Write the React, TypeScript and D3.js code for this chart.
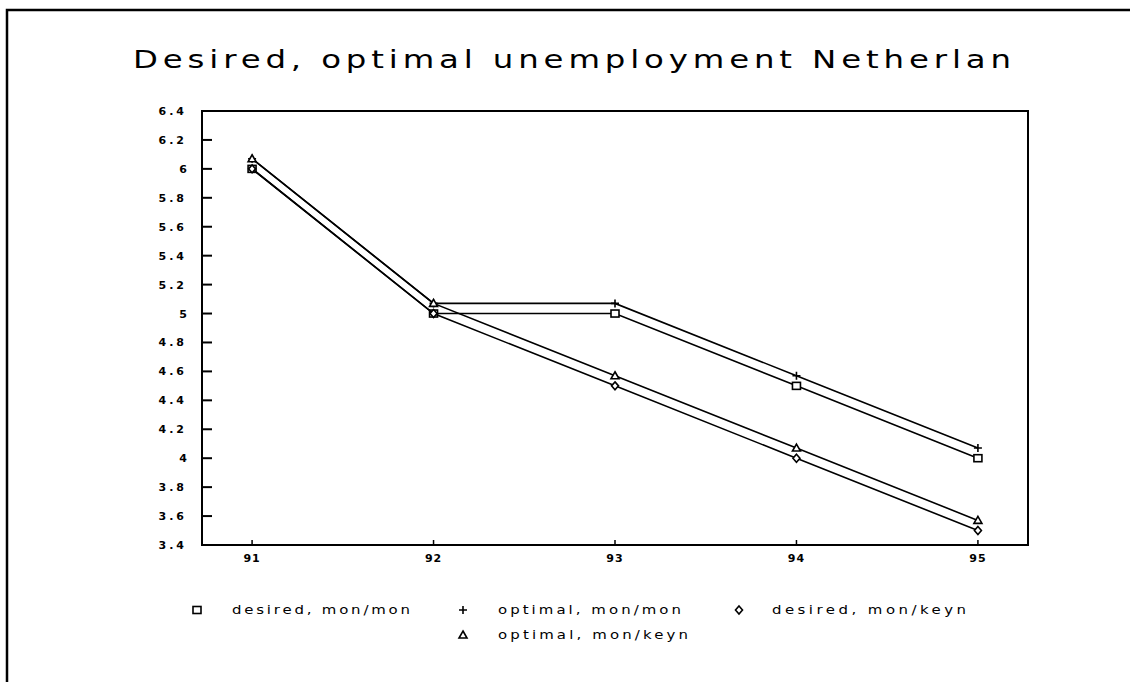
import React from 'react';
import * as d3 from 'd3';

const years = [91, 92, 93, 94, 95];
const desiredMonMon = [6.0, 5.0, 5.0, 4.5, 4.0];
const optimalMonMon = [6.07, 5.07, 5.07, 4.57, 4.07];
const desiredMonKeyn = [6.0, 5.0, 4.5, 4.0, 3.5];
const optimalMonKeyn = [6.07, 5.07, 4.57, 4.07, 3.57];
const yTicks = [6.4, 6.2, 6.0, 5.8, 5.6, 5.4, 5.2, 5.0, 4.8, 4.6, 4.4, 4.2, 4.0, 3.8, 3.6, 3.4];

type Shape = 'square' | 'plus' | 'diamond' | 'triangle';

const series: { name: string; values: number[]; shape: Shape }[] = [
  { name: 'desired, mon/mon', values: desiredMonMon, shape: 'square' },
  { name: 'optimal, mon/mon', values: optimalMonMon, shape: 'plus' },
  { name: 'desired, mon/keyn', values: desiredMonKeyn, shape: 'diamond' },
  { name: 'optimal, mon/keyn', values: optimalMonKeyn, shape: 'triangle' },
];

const W = 1130;
const H = 682;
const plot = { left: 202, top: 111, right: 1028, bottom: 545 };
const FONT = '"DejaVu Sans", sans-serif';

const fmtY = (v: number) => (Number.isInteger(v) ? String(v) : v.toFixed(1));

const Marker: React.FC<{ shape: Shape; x: number; y: number }> = ({ shape, x, y }) => {
  const s = 4;
  const common = { fill: 'white', stroke: '#000', strokeWidth: 1.6 };
  if (shape === 'square') return <rect x={x - s} y={y - s + 0.5} width={2 * s} height={2 * s - 1} {...common} />;
  if (shape === 'plus')
    return (
      <path d={`M${x - s},${y}H${x + s}M${x},${y - s}V${y + s}`} stroke="#000" strokeWidth={1.6} fill="none" />
    );
  if (shape === 'diamond')
    return <path d={`M${x},${y - s}L${x + s - 0.5},${y}L${x},${y + s}L${x - s + 0.5},${y}Z`} {...common} />;
  return <path d={`M${x},${y - s}L${x + s},${y + s - 1}L${x - s},${y + s - 1}Z`} {...common} />;
};

// wide, spaced-out text like the old plotter font
const WideText: React.FC<{ x: number; y: number; w: number; size: number; sx: number; children: string }> = ({
  x,
  y,
  w,
  size,
  sx,
  children,
}) => (
  <text
    transform={`translate(${x},${y}) scale(${sx},1)`}
    fontSize={size}
    textLength={w / sx}
    lengthAdjust="spacing"
    fill="#000"
  >
    {children}
  </text>
);

export default function App() {
  const x = d3.scaleLinear().domain([90.724, 95.276]).range([plot.left, plot.right]);
  const y = d3.scaleLinear().domain([3.4, 6.4]).range([plot.bottom, plot.top]);
  const line = d3
    .line<number>()
    .x((_, i) => x(years[i]))
    .y((d) => y(d));

  const legend = [
    { s: series[0], mx: 197, tx: 232, tw: 178, ty: 613 },
    { s: series[1], mx: 463, tx: 498, tw: 183, ty: 613 },
    { s: series[2], mx: 739, tx: 772, tw: 194, ty: 613 },
    { s: series[3], mx: 463, tx: 498, tw: 190, ty: 638 },
  ];

  return (
    <svg
      width={W}
      height={H}
      style={{ position: 'absolute', left: 0, top: 0, background: '#fff' }}
      fontFamily={FONT}
    >
      {/* outer frame */}
      <path d={`M7,682V10H${W}`} fill="none" stroke="#000" strokeWidth={2.5} />

      <WideText x={133} y={68} w={878} size={24} sx={1.35}>
        Desired, optimal unemployment Netherlan
      </WideText>

      {/* plot box */}
      <rect
        x={plot.left}
        y={plot.top}
        width={plot.right - plot.left}
        height={plot.bottom - plot.top}
        fill="none"
        stroke="#000"
        strokeWidth={2}
      />

      {yTicks.map((t) => (
        <g key={t}>
          <line x1={plot.left} x2={plot.left + 10} y1={y(t)} y2={y(t)} stroke="#000" strokeWidth={2} />
          <text
            x={187}
            y={y(t) + 4}
            fontSize={11}
            textAnchor="end"
            letterSpacing={fmtY(t).length > 1 ? 3 : 0}
            fill="#000"
            fontWeight="bold"
          >
            {fmtY(t)}
          </text>
        </g>
      ))}

      {years.map((yr) => (
        <g key={yr}>
          <line x1={x(yr)} x2={x(yr)} y1={plot.bottom} y2={plot.bottom - 5} stroke="#000" strokeWidth={1.5} />
          <text x={x(yr)} y={562} fontSize={11} textAnchor="middle" letterSpacing={1} fill="#000" fontWeight="bold">
            {yr}
          </text>
        </g>
      ))}

      {series.map((s) => (
        <g key={s.name}>
          <path d={line(s.values) || ''} fill="none" stroke="#000" strokeWidth={1.6} />
          {s.values.map((v, i) => (
            <Marker key={i} shape={s.shape} x={x(years[i])} y={y(v)} />
          ))}
        </g>
      ))}

      {legend.map((l) => (
        <g key={l.s.name}>
          <Marker shape={l.s.shape} x={l.mx} y={l.ty - 3} />
          <WideText x={l.tx} y={l.ty + 1} w={l.tw} size={11.5} sx={1.3}>
            {l.s.name}
          </WideText>
        </g>
      ))}
    </svg>
  );
}
